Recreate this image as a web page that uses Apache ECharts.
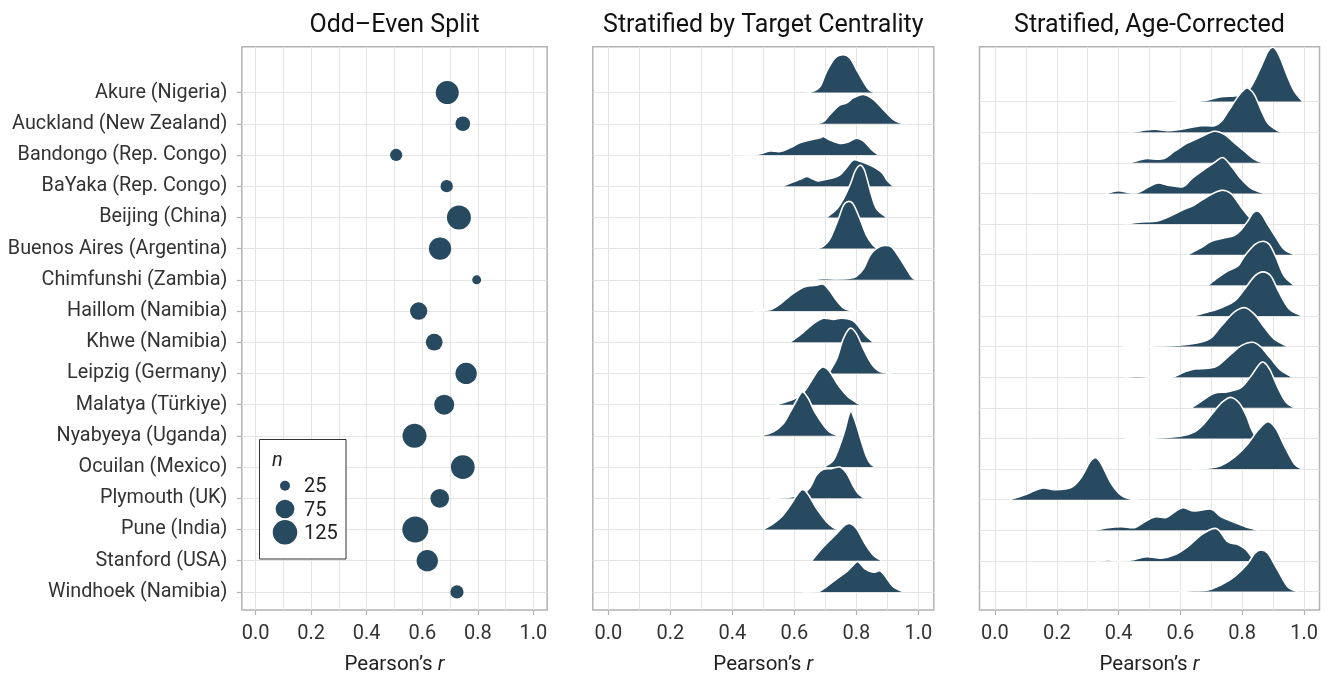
<!DOCTYPE html>
<html>
<head>
<meta charset="utf-8">
<script src="https://cdn.jsdelivr.net/npm/echarts@6/dist/echarts.min.js"></script>
<style>
  html, body { margin: 0; padding: 0; background: #fff; }
  #main { width: 1329px; height: 680px; }
</style>
</head>
<body>
<div id="main"></div>
<script>
// sites, top to bottom
var sites = ['Akure (Nigeria)', 'Auckland (New Zealand)', 'Bandongo (Rep. Congo)', 'BaYaka (Rep. Congo)',
  'Beijing (China)', 'Buenos Aires (Argentina)', 'Chimfunshi (Zambia)', 'Haillom (Namibia)', 'Khwe (Namibia)',
  'Leipzig (Germany)', 'Malatya (Türkiye)', 'Nyabyeya (Uganda)', 'Ocuilan (Mexico)', 'Plymouth (UK)',
  'Pune (India)', 'Stanford (USA)', 'Windhoek (Namibia)'];

// odd-even split: r and sample size
var oddEvenR = [0.69, 0.746, 0.506, 0.688, 0.732, 0.664, 0.796, 0.587, 0.643, 0.758, 0.679, 0.572, 0.746, 0.663, 0.575, 0.618, 0.725];
var oddEvenN = [111, 48, 35, 35, 120, 104, 21, 65, 61, 96, 85, 120, 118, 75, 140, 96, 40];
var legendN = [25, 75, 125];

var xTickVals = [0, 0.2, 0.4, 0.6, 0.8, 1.0];
var xGridVals = [0, 0.1, 0.2, 0.3, 0.4, 0.5, 0.6, 0.7, 0.8, 0.9, 1.0];
var catPos = [1, 2, 3, 4, 5, 6, 7, 8, 9, 10, 11, 12, 13, 14, 15, 16, 17];

// ridge outlines [r, height in rows]
var centrality = [
  [[0.640,0],[0.660,0.04],[0.683,0.19],[0.704,0.67],[0.731,1.10],[0.758,1.21],[0.780,1.10],[0.801,0.73],[0.823,0.35],[0.840,0.10],[0.860,0]],
  [[0.672,0],[0.695,0.08],[0.715,0.30],[0.742,0.57],[0.769,0.67],[0.790,0.83],[0.823,0.94],[0.855,0.78],[0.887,0.46],[0.919,0.14],[0.945,0.02],[0.968,0]],
  [[0.392,0],[0.410,0.02],[0.430,0.01],[0.450,0],[0.470,0.01],[0.490,0.04],[0.522,0.13],[0.554,0.11],[0.586,0.23],[0.618,0.39],[0.651,0.48],[0.683,0.55],[0.694,0.59],[0.715,0.48],[0.747,0.37],[0.774,0.42],[0.801,0.54],[0.823,0.45],[0.849,0.18],[0.871,0]],
  [[0.562,0],[0.597,0.14],[0.618,0.22],[0.640,0.31],[0.656,0.25],[0.677,0.17],[0.704,0.22],[0.742,0.33],[0.769,0.60],[0.790,0.84],[0.817,0.78],[0.849,0.65],[0.882,0.44],[0.900,0.18],[0.919,0]],
  [[0.704,0],[0.737,0.27],[0.758,0.59],[0.780,1.05],[0.796,1.48],[0.812,1.67],[0.825,1.55],[0.835,1.23],[0.849,0.72],[0.866,0.27],[0.898,0]],
  [[0.672,0],[0.694,0.08],[0.715,0.31],[0.742,0.95],[0.758,1.38],[0.774,1.51],[0.790,1.43],[0.812,0.95],[0.833,0.42],[0.855,0.10],[0.871,0]],
  [[0.661,0],[0.694,0.04],[0.737,0.03],[0.780,0.05],[0.801,0.12],[0.823,0.35],[0.844,0.78],[0.866,1.01],[0.892,1.10],[0.914,1.05],[0.935,0.78],[0.962,0.35],[0.978,0.10],[0.992,0]],
  [[0.468,0],[0.500,0.02],[0.527,0.06],[0.554,0.22],[0.586,0.49],[0.629,0.76],[0.651,0.81],[0.672,0.83],[0.694,0.86],[0.715,0.64],[0.737,0.33],[0.758,0.10],[0.780,0.02],[0.806,0]],
  [[0.586,0],[0.629,0.32],[0.661,0.59],[0.694,0.77],[0.726,0.73],[0.753,0.77],[0.790,0.69],[0.812,0.45],[0.833,0.19],[0.855,0]],
  [[0.710,0],[0.737,0.47],[0.758,1.11],[0.780,1.45],[0.801,1.27],[0.823,0.79],[0.849,0.31],[0.876,0.06],[0.914,0]],
  [[0.543,0],[0.597,0.17],[0.629,0.38],[0.656,0.78],[0.677,1.10],[0.694,1.21],[0.715,1.05],[0.742,0.62],[0.774,0.25],[0.812,0]],
  [[0.489,0],[0.532,0.13],[0.565,0.40],[0.586,0.75],[0.608,1.15],[0.626,1.41],[0.645,1.20],[0.667,0.75],[0.694,0.35],[0.715,0.12],[0.742,0]],
  [[0.694,0],[0.726,0.22],[0.747,0.70],[0.763,1.18],[0.774,1.60],[0.782,1.79],[0.790,1.65],[0.801,1.34],[0.817,0.81],[0.833,0.33],[0.848,0.08],[0.863,0]],
  [[0.522,0],[0.565,0.02],[0.597,0.06],[0.629,0.15],[0.651,0.35],[0.672,0.75],[0.694,0.93],[0.720,0.95],[0.747,1.00],[0.769,0.80],[0.790,0.40],[0.806,0.15],[0.825,0]],
  [[0.500,0],[0.532,0.19],[0.559,0.41],[0.586,0.76],[0.608,1.10],[0.627,1.28],[0.645,1.12],[0.672,0.67],[0.704,0.25],[0.725,0.07],[0.742,0]],
  [[0.656,0],[0.694,0.45],[0.737,0.87],[0.763,1.14],[0.780,1.19],[0.801,1.03],[0.828,0.55],[0.855,0.18],[0.882,0]],
  [[0.629,0],[0.660,0.01],[0.683,0.03],[0.704,0.17],[0.737,0.42],[0.769,0.65],[0.790,0.86],[0.806,0.97],[0.828,0.74],[0.855,0.63],[0.878,0.67],[0.898,0.44],[0.919,0.17],[0.952,0]]
];

var ageCorrected = [
  [[0.581,0],[0.600,0.01],[0.624,0.005],[0.645,0.01],[0.667,0.02],[0.689,0.05],[0.732,0.16],[0.775,0.18],[0.807,0.25],[0.829,0.49],[0.845,0.80],[0.861,1.14],[0.883,1.63],[0.897,1.77],[0.910,1.68],[0.926,1.36],[0.947,0.81],[0.969,0.33],[0.996,0]],
  [[0.436,0],[0.474,0.05],[0.517,0.10],[0.560,0.05],[0.603,0.10],[0.667,0.21],[0.710,0.21],[0.732,0.35],[0.754,0.67],[0.786,1.16],[0.807,1.40],[0.820,1.43],[0.840,1.21],[0.861,0.73],[0.883,0.29],[0.915,0.05],[0.931,0]],
  [[0.436,0],[0.474,0.11],[0.495,0.14],[0.544,0.13],[0.581,0.38],[0.624,0.65],[0.667,0.85],[0.710,1.03],[0.743,0.92],[0.775,0.65],[0.807,0.38],[0.840,0.11],[0.867,0]],
  [[0.361,0],[0.398,0.09],[0.436,0.02],[0.463,0.03],[0.495,0.20],[0.527,0.34],[0.560,0.27],[0.608,0.22],[0.635,0.47],[0.678,0.79],[0.710,1.01],[0.737,1.17],[0.764,0.90],[0.797,0.47],[0.829,0.17],[0.872,0]],
  [[0.420,0],[0.474,0.07],[0.522,0.09],[0.560,0.23],[0.603,0.44],[0.646,0.63],[0.689,0.91],[0.732,1.10],[0.764,0.99],[0.797,0.55],[0.818,0.28],[0.840,0.08],[0.861,0]],
  [[0.624,0],[0.667,0.23],[0.700,0.44],[0.743,0.55],[0.775,0.63],[0.797,0.82],[0.818,1.10],[0.834,1.35],[0.848,1.43],[0.863,1.32],[0.883,0.98],[0.910,0.55],[0.936,0.17],[0.969,0]],
  [[0.689,0],[0.721,0.25],[0.754,0.47],[0.786,0.63],[0.807,0.95],[0.840,1.33],[0.867,1.44],[0.888,1.33],[0.910,0.90],[0.936,0.30],[0.969,0]],
  [[0.640,0],[0.689,0.13],[0.732,0.27],[0.775,0.49],[0.807,0.87],[0.840,1.30],[0.867,1.44],[0.893,1.30],[0.920,0.76],[0.953,0.22],[0.996,0]],
  [[0.414,0],[0.474,0.01],[0.527,0.02],[0.603,0.05],[0.667,0.15],[0.700,0.29],[0.732,0.67],[0.775,1.13],[0.809,1.27],[0.840,1.05],[0.872,0.62],[0.904,0.24],[0.947,0]],
  [[0.425,0],[0.452,0.03],[0.484,0.02],[0.506,0],[0.571,0],[0.614,0.18],[0.646,0.27],[0.689,0.29],[0.721,0.38],[0.764,0.76],[0.797,1.03],[0.834,1.14],[0.861,0.98],[0.893,0.60],[0.926,0.22],[0.963,0]],
  [[0.635,0],[0.678,0.29],[0.710,0.48],[0.754,0.53],[0.797,0.67],[0.829,1.05],[0.863,1.49],[0.888,1.27],[0.915,0.67],[0.942,0.18],[0.969,0]],
  [[0.420,0],[0.527,0.02],[0.603,0.08],[0.646,0.22],[0.678,0.50],[0.710,0.90],[0.737,1.20],[0.764,1.34],[0.791,1.15],[0.813,0.75],[0.830,0.30],[0.845,0.05],[0.858,0]],
  [[0.635,0],[0.689,0.03],[0.732,0.12],[0.775,0.39],[0.818,0.82],[0.850,1.26],[0.883,1.55],[0.910,1.31],[0.936,0.77],[0.969,0.17],[0.996,0]],
  [[0.048,0],[0.097,0.16],[0.151,0.38],[0.194,0.33],[0.248,0.41],[0.280,0.74],[0.307,1.23],[0.326,1.37],[0.344,1.17],[0.377,0.52],[0.409,0.14],[0.440,0.02],[0.463,0]],
  [[0.318,0],[0.366,0.09],[0.409,0.12],[0.452,0.09],[0.484,0.28],[0.517,0.44],[0.554,0.42],[0.581,0.60],[0.608,0.74],[0.646,0.63],[0.700,0.69],[0.732,0.44],[0.775,0.26],[0.818,0.09],[0.856,0]],
  [[0.328,0],[0.366,0.03],[0.409,0.01],[0.441,0.03],[0.490,0.14],[0.538,0.09],[0.581,0.20],[0.624,0.47],[0.667,0.85],[0.716,1.06],[0.753,0.63],[0.786,0.54],[0.813,0.36],[0.834,0.09],[0.850,0]],
  [[0.597,0],[0.646,0.03],[0.689,0.05],[0.732,0.22],[0.775,0.49],[0.818,0.92],[0.840,1.25],[0.861,1.36],[0.883,1.25],[0.915,0.70],[0.947,0.16],[0.980,0]]
];

var FONT = 'Roboto, "Liberation Sans", sans-serif';
var markColor = '#284a60';
var gridColor = '#e4e4e4';
var borderColor = '#b3b3b3';

// dot diameter from n (area grows linearly with n)
function sizeOf(n) {
  return Math.sqrt(Math.max(5 * n - 25, 16));
}

// smooth curve through pixel points, control points kept above the baseline
function curvePath(pts, baseY, close) {
  var d = 'M' + pts[0][0] + ' ' + pts[0][1];
  for (var i = 0; i < pts.length - 1; i++) {
    var p0 = pts[i - 1] || pts[i], p1 = pts[i], p2 = pts[i + 1], p3 = pts[i + 2] || p2;
    var c1x = p1[0] + (p2[0] - p0[0]) / 6, c1y = Math.min(baseY, p1[1] + (p2[1] - p0[1]) / 6);
    var c2x = p2[0] - (p3[0] - p1[0]) / 6, c2y = Math.min(baseY, p2[1] - (p3[1] - p1[1]) / 6);
    d += ' C' + c1x + ' ' + c1y + ' ' + c2x + ' ' + c2y + ' ' + p2[0] + ' ' + p2[1];
  }
  if (close) d += ' Z';
  return d;
}

function ridgeSeries(dens, gi) {
  return {
    type: 'custom',
    xAxisIndex: gi * 2,
    yAxisIndex: gi,
    clip: true,
    encode: { x: 0, y: 1 },
    data: dens.map(function (d, i) { return [d[0][0], 17 - i]; }),
    renderItem: function (params, api) {
      var i = params.dataIndex, base = 17 - i;
      var pts = dens[i].map(function (p) { return api.coord([p[0], base + p[1]]); });
      var baseY = api.coord([0, base])[1];
      return {
        type: 'group',
        children: [
          { type: 'path', z2: i * 2, shape: { pathData: curvePath(pts, baseY, true) },
            style: { fill: markColor, stroke: 'none' } },
          { type: 'path', z2: i * 2 + 1, shape: { pathData: curvePath(pts, baseY, false) },
            style: { fill: 'none', stroke: '#fff', lineWidth: 1.6 } }
        ]
      };
    }
  };
}

var panels = [
  { left: 241.8, width: 305.4, ymin: 0.42, ymax: 18.47, title: 'Odd–Even Split' },
  { left: 592.8, width: 341.0, ymin: 0.42, ymax: 18.47, title: 'Stratified by Target Centrality' },
  { left: 979.5, width: 340.0, ymin: 0.4, ymax: 18.79, title: 'Stratified, Age-Corrected' }
];

var grids = [], xAxes = [], yAxes = [], graphics = [];
panels.forEach(function (p, gi) {
  grids.push({ left: p.left, top: 46.7, width: p.width, height: 565, show: true,
    backgroundColor: '#fff', borderColor: borderColor, borderWidth: 1.5 });
  // axis carrying the data and the 0.1 grid lines
  xAxes.push({ gridIndex: gi, type: 'value', min: -0.05, max: 1.05,
    axisLine: { show: false, onZero: false },
    axisTick: { show: false, customValues: xGridVals },
    axisLabel: { show: false },
    splitLine: { show: true, lineStyle: { color: gridColor, width: 1 } } });
  // axis drawing the ticks, labels and name
  xAxes.push({ gridIndex: gi, type: 'value', min: -0.05, max: 1.05, position: 'bottom',
    axisLine: { show: false, onZero: false },
    axisTick: { show: true, customValues: xTickVals, length: 5, lineStyle: { color: borderColor, width: 1.2 } },
    axisLabel: { customValues: xTickVals, margin: 14, fontFamily: FONT, fontSize: 20, color: '#333',
      formatter: function (v) { return v.toFixed(1); } },
    splitLine: { show: false },
    name: 'Pearson’s {i|r}', nameLocation: 'middle', nameGap: 44,
    nameTextStyle: { fontFamily: FONT, fontSize: 20.5, color: '#222',
      rich: { i: { fontFamily: FONT, fontSize: 20.5, fontStyle: 'italic', color: '#222' } } } });
  yAxes.push({ gridIndex: gi, type: 'value', min: p.ymin, max: p.ymax, position: 'left',
    axisLine: { show: false, onZero: false },
    axisTick: { show: gi === 0, customValues: catPos, length: 5, lineStyle: { color: borderColor, width: 1.2 } },
    axisLabel: { show: gi === 0, customValues: catPos, margin: 14.5, fontFamily: FONT, fontSize: 19.8, color: '#333',
      formatter: function (v) { return sites[17 - v]; } },
    splitLine: { show: true, lineStyle: { color: gridColor, width: 1.1 } } });
  graphics.push({ type: 'text', x: p.left + p.width / 2, y: 26, z: 10,
    style: { text: p.title, font: '25px ' + FONT, fill: '#111',
      align: 'center', verticalAlign: 'middle', textAlign: 'center', textVerticalAlign: 'middle' } });
});

// size legend inside the first panel
graphics.push({ type: 'rect', z: 10, shape: { x: 259.5, y: 439.5, width: 86.5, height: 119.5 },
  style: { fill: '#fff', stroke: '#333', lineWidth: 1 } });
graphics.push({ type: 'text', x: 272, y: 461, z: 11,
  style: { text: 'n', font: 'italic 20px ' + FONT, fill: '#222',
    align: 'left', verticalAlign: 'middle', textAlign: 'left', textVerticalAlign: 'middle' } });
legendN.forEach(function (n, k) {
  var cy = 485.7 + k * 23.3;
  graphics.push({ type: 'circle', z: 11, shape: { cx: 285, cy: cy, r: sizeOf(n) / 2 },
    style: { fill: markColor } });
  graphics.push({ type: 'text', x: 304, y: cy + 1.5, z: 11,
    style: { text: String(n), font: '20px ' + FONT, fill: '#222',
      align: 'left', verticalAlign: 'middle', textAlign: 'left', textVerticalAlign: 'middle' } });
});

var chart = echarts.init(document.getElementById('main'), null, { renderer: 'canvas' });
chart.setOption({
  animation: false,
  backgroundColor: '#fff',
  grid: grids,
  xAxis: xAxes,
  yAxis: yAxes,
  graphic: graphics,
  series: [
    {
      type: 'scatter',
      xAxisIndex: 0,
      yAxisIndex: 0,
      data: oddEvenR.map(function (r, i) { return [r, 17 - i, oddEvenN[i]]; }),
      symbolSize: function (v) { return sizeOf(v[2]); },
      itemStyle: { color: markColor, opacity: 1 },
      z: 3
    },
    ridgeSeries(centrality, 1),
    ridgeSeries(ageCorrected, 2)
  ]
});
</script>
</body>
</html>
